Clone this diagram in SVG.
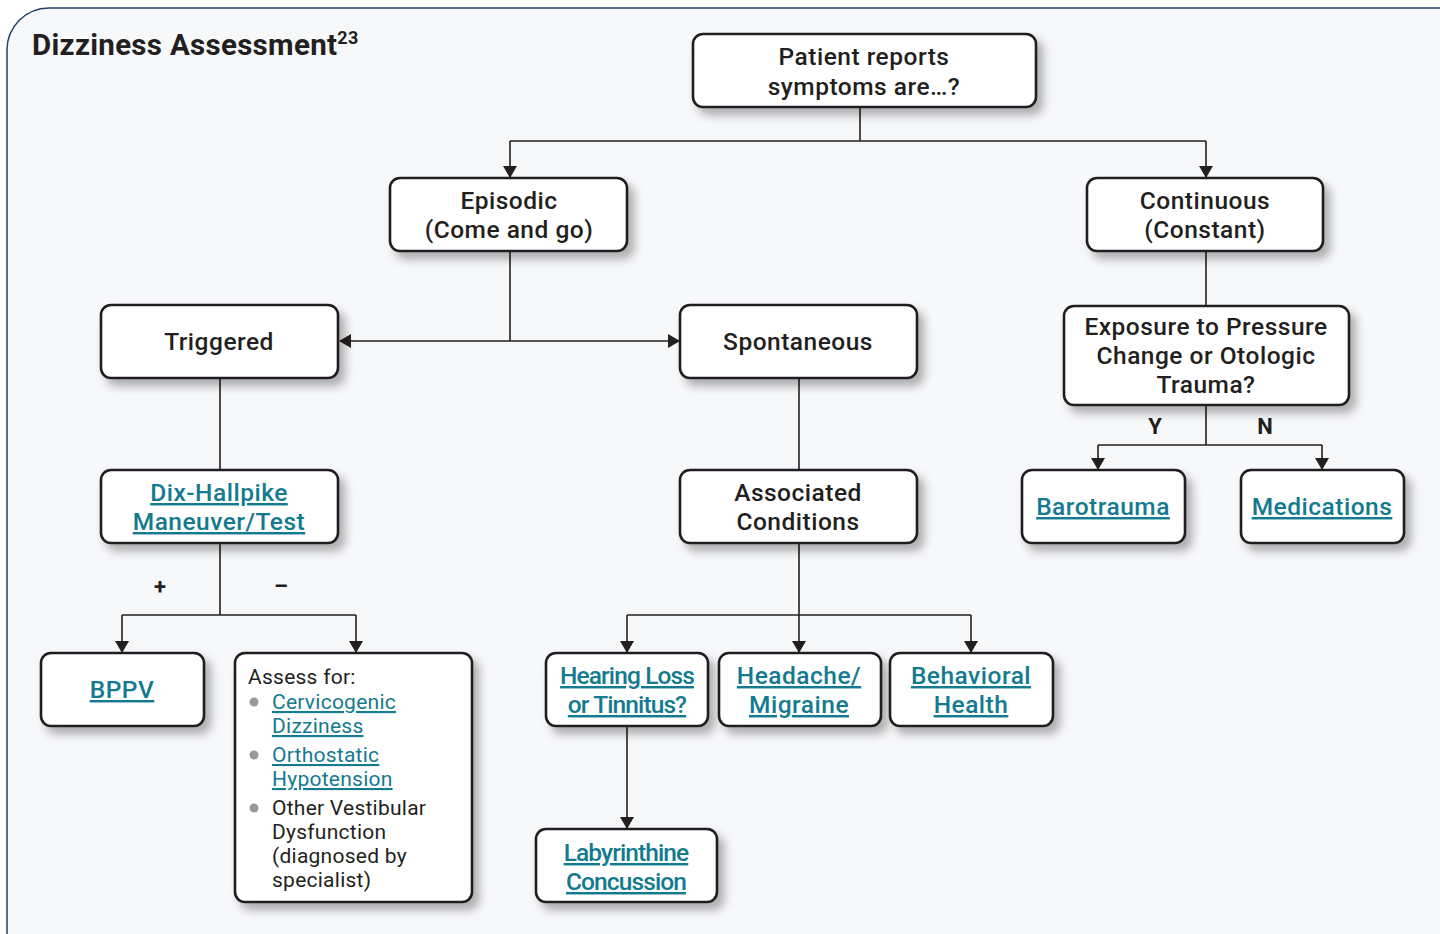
<svg xmlns="http://www.w3.org/2000/svg" width="1440" height="934" viewBox="0 0 1440 934">
<style>
.box{fill:#ffffff;stroke:#231f20;stroke-width:2.6}
.t{font-family:Roboto,"Liberation Sans",Arial,sans-serif;font-weight:500;font-size:24.5px;letter-spacing:0.5px;fill:#231f20;text-anchor:middle}
.lk{font-family:Roboto,"Liberation Sans",Arial,sans-serif;font-weight:500;font-size:24.5px;letter-spacing:0.5px;fill:#137a8f;text-anchor:middle;text-decoration:underline}
.lk.n{letter-spacing:-0.9px}
.r{font-family:Roboto,"Liberation Sans",Arial,sans-serif;font-weight:400;font-size:21px;letter-spacing:0.25px;fill:#231f20}
.rl{font-family:Roboto,"Liberation Sans",Arial,sans-serif;font-weight:400;font-size:21px;letter-spacing:0.25px;fill:#137a8f;text-decoration:underline}
.lab{font-family:Roboto,"Liberation Sans",Arial,sans-serif;font-weight:700;font-size:22px;fill:#231f20;text-anchor:middle}
.c{fill:none;stroke:#231f20;stroke-width:1.6}
.bul{fill:#9a9a9a}
</style>
<defs>
<filter id="sh" x="-20%" y="-20%" width="150%" height="160%">
<feDropShadow dx="6" dy="7" stdDeviation="5" flood-color="#000" flood-opacity="0.3"/>
</filter>
<marker id="ar" viewBox="0 0 12 14" refX="11" refY="7" markerWidth="12" markerHeight="14" markerUnits="userSpaceOnUse" orient="auto">
<path d="M0,0 L12,7 L0,14 Z" fill="#231f20"/>
</marker>
</defs>
<rect x="0" y="0" width="1440" height="934" fill="#ffffff"/>
<rect x="7" y="8" width="1480" height="980" rx="42" fill="#f7f8fa" stroke="#24406a" stroke-width="1.5"/>
<text x="32" y="55" font-family="Roboto,'Liberation Sans',Arial,sans-serif" font-weight="700" font-size="29.5" letter-spacing="0.3" fill="#231f20">Dizziness Assessment<tspan font-size="18" dy="-11">23</tspan></text>

<g id="connectors">
<path class="c" d="M860,107 V141 M510,141 H1206"/>
<path class="c" d="M510,141 V177" marker-end="url(#ar)"/>
<path class="c" d="M1206,141 V177" marker-end="url(#ar)"/>
<path class="c" d="M510,251 V341"/>
<path class="c" d="M510,341 H340" marker-end="url(#ar)"/>
<path class="c" d="M510,341 H679" marker-end="url(#ar)"/>
<path class="c" d="M1206,251 V306"/>
<path class="c" d="M220,378 V470"/>
<path class="c" d="M799,378 V470"/>
<path class="c" d="M1206,405 V445 M1098,445 H1322"/>
<path class="c" d="M1098,445 V469" marker-end="url(#ar)"/>
<path class="c" d="M1322,445 V469" marker-end="url(#ar)"/>
<path class="c" d="M220,543 V615 M122,615 H356"/>
<path class="c" d="M122,615 V652" marker-end="url(#ar)"/>
<path class="c" d="M356,615 V652" marker-end="url(#ar)"/>
<path class="c" d="M799,543 V615 M627,615 H971"/>
<path class="c" d="M627,615 V652" marker-end="url(#ar)"/>
<path class="c" d="M799,615 V652" marker-end="url(#ar)"/>
<path class="c" d="M971,615 V652" marker-end="url(#ar)"/>
<path class="c" d="M627,726 V828" marker-end="url(#ar)"/>
<text class="lab" x="160" y="594">+</text>
<text class="lab" x="281" y="594">–</text>
<text class="lab" x="1155" y="434">Y</text>
<text class="lab" x="1265" y="434">N</text>
</g>

<g id="patient"><rect class="box" filter="url(#sh)" x="693" y="34" width="343" height="73" rx="10"/>
<text class="t" x="864" y="65">Patient reports</text><text class="t" x="864" y="95">symptoms are…?</text></g>

<g id="episodic"><rect class="box" filter="url(#sh)" x="390" y="178" width="237" height="73" rx="10"/>
<text class="t" x="509" y="209">Episodic</text><text class="t" x="509" y="238">(Come and go)</text></g>

<g id="continuous"><rect class="box" filter="url(#sh)" x="1087" y="178" width="236" height="73" rx="10"/>
<text class="t" x="1205" y="209">Continuous</text><text class="t" x="1205" y="238">(Constant)</text></g>

<g id="triggered"><rect class="box" filter="url(#sh)" x="101" y="305" width="237" height="73" rx="10"/>
<text class="t" x="219" y="350">Triggered</text></g>

<g id="spontaneous"><rect class="box" filter="url(#sh)" x="680" y="305" width="237" height="73" rx="10"/>
<text class="t" x="798" y="350">Spontaneous</text></g>

<g id="exposure"><rect class="box" filter="url(#sh)" x="1064" y="306" width="285" height="99" rx="10"/>
<text class="t" x="1206" y="335">Exposure to Pressure</text><text class="t" x="1206" y="364">Change or Otologic</text><text class="t" x="1206" y="393">Trauma?</text></g>

<g id="dixhallpike"><rect class="box" filter="url(#sh)" x="101" y="470" width="237" height="73" rx="10"/>
<text class="lk" x="219" y="501">Dix-Hallpike</text><text class="lk" x="219" y="530">Maneuver/Test</text></g>

<g id="associated"><rect class="box" filter="url(#sh)" x="680" y="470" width="237" height="73" rx="10"/>
<text class="t" x="798" y="501">Associated</text><text class="t" x="798" y="530">Conditions</text></g>

<g id="barotrauma"><rect class="box" filter="url(#sh)" x="1022" y="470" width="163" height="73" rx="10"/>
<text class="lk" x="1103" y="515">Barotrauma</text></g>

<g id="medications"><rect class="box" filter="url(#sh)" x="1241" y="470" width="163" height="73" rx="10"/>
<text class="lk" x="1322" y="515">Medications</text></g>

<g id="bppv"><rect class="box" filter="url(#sh)" x="41" y="653" width="163" height="73" rx="10"/>
<text class="lk" x="122" y="698">BPPV</text></g>

<g id="assess"><rect class="box" filter="url(#sh)" x="235" y="653" width="237" height="249" rx="10"/>
<text class="r" x="248" y="684">Assess for:</text>
<circle class="bul" cx="254" cy="702" r="4.5"/>
<text class="rl" x="272" y="709">Cervicogenic </text><text class="rl" x="272" y="733">Dizziness</text>
<circle class="bul" cx="254" cy="755" r="4.5"/>
<text class="rl" x="272" y="762">Orthostatic </text><text class="rl" x="272" y="786">Hypotension</text>
<circle class="bul" cx="254" cy="808" r="4.5"/>
<text class="r" x="272" y="815">Other Vestibular</text><text class="r" x="272" y="839">Dysfunction</text>
<text class="r" x="272" y="863">(diagnosed by</text><text class="r" x="272" y="887">specialist)</text></g>

<g id="hearing"><rect class="box" filter="url(#sh)" x="546" y="653" width="162" height="73" rx="10"/>
<text class="lk n" x="627" y="684">Hearing Loss</text><text class="lk n" x="627" y="713">or Tinnitus?</text></g>

<g id="headache"><rect class="box" filter="url(#sh)" x="719" y="653" width="162" height="73" rx="10"/>
<text class="lk" x="799" y="684">Headache/</text><text class="lk" x="799" y="713">Migraine</text></g>

<g id="behavioral"><rect class="box" filter="url(#sh)" x="890" y="653" width="163" height="73" rx="10"/>
<text class="lk" x="971" y="684">Behavioral</text><text class="lk" x="971" y="713">Health</text></g>

<g id="labyrinthine"><rect class="box" filter="url(#sh)" x="536" y="829" width="181" height="73" rx="10"/>
<text class="lk n" x="626" y="861">Labyrinthine</text><text class="lk n" x="626" y="890">Concussion</text></g>
</svg>
